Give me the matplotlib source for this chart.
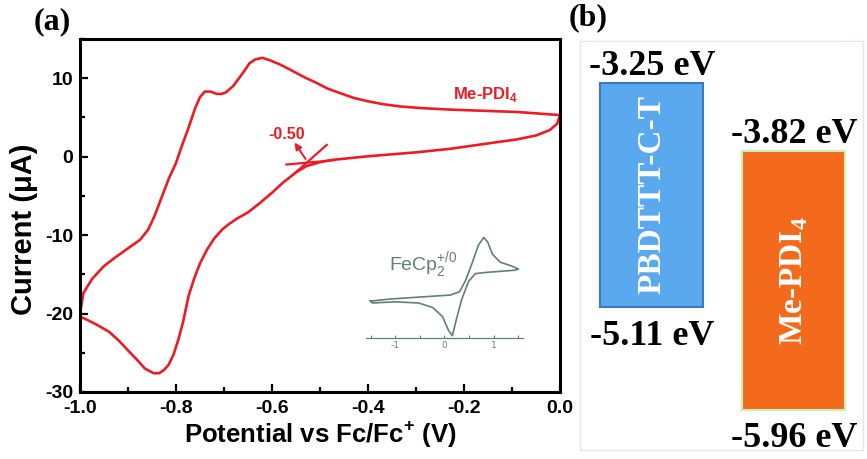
import numpy as np
import matplotlib
matplotlib.use('Agg')
import matplotlib.pyplot as plt
from matplotlib.ticker import MultipleLocator, FormatStrFormatter

plt.rcParams['axes.unicode_minus'] = False
plt.rcParams['mathtext.fontset'] = 'custom'
plt.rcParams['mathtext.rm'] = 'Liberation Sans'

# CV of Me-PDI4 (one closed loop)
# upper branch, right to left
up_potential = [0.0, -0.045, -0.09, -0.16, -0.229, -0.29, -0.333, -0.37, -0.403, -0.43,
                -0.458, -0.485, -0.507, -0.535, -0.5625, -0.585, -0.605, -0.62, -0.635, -0.647,
                -0.658, -0.67, -0.681, -0.696, -0.705, -0.715, -0.728, -0.74, -0.75, -0.76,
                -0.775, -0.79, -0.80, -0.815, -0.83, -0.845, -0.858, -0.875, -0.905, -0.93,
                -0.951, -0.975, -0.993, -1.0]
up_current = [5.3, 5.5, 5.7, 5.85, 6.0, 6.2, 6.4, 6.7, 7.1, 7.5,
              8.1, 8.7, 9.4, 10.2, 11.1, 11.8, 12.3, 12.6, 12.4, 11.9,
              10.9, 9.9, 9.0, 8.2, 8.0, 8.0, 8.3, 8.3, 7.6, 6.2,
              3.5, 1.0, -0.8, -2.8, -5.2, -7.6, -9.3, -10.6, -11.9, -13.0,
              -14.0, -15.6, -17.4, -20.0]
# lower branch, left to right
low_potential = [-1.0, -0.985, -0.966, -0.94, -0.92, -0.90, -0.881, -0.865, -0.847, -0.835,
                 -0.825, -0.815, -0.805, -0.795, -0.785, -0.774, -0.762, -0.75, -0.735, -0.72,
                 -0.704, -0.69, -0.673, -0.65, -0.627, -0.60, -0.577, -0.55, -0.528, -0.50,
                 -0.473, -0.40, -0.30, -0.229, -0.16, -0.09, -0.05, -0.021, -0.006, 0.0]
low_current = [-20.4, -20.8, -21.4, -22.3, -23.4, -24.7, -25.9, -27.0, -27.6, -27.6,
               -27.2, -26.5, -25.2, -23.3, -21.0, -17.8, -15.5, -13.6, -11.8, -10.4,
               -9.3, -8.6, -7.9, -7.1, -6.0, -4.6, -3.3, -2.0, -1.2, -0.7,
               -0.4, 0.05, 0.55, 1.0, 1.6, 2.2, 2.7, 3.4, 4.2, 5.3]

# onset tangents
base_x = [-0.57, -0.47]
base_y = [-1.0, -0.45]
steep_x = [-0.556, -0.486]
steep_y = [-2.3, 1.5]
onset = -0.50

# ferrocene inset (arbitrary current)
fc_potential = [-1.51, -1.10, -0.49, 0.12, 0.31, 0.43, 0.57, 0.69, 0.80, 0.88, 0.98, 1.14, 1.35, 1.51,
                1.43, 1.14, 0.84, 0.63, 0.49, 0.35, 0.24, 0.16, 0.08, -0.04, -0.24, -0.53, -1.0, -1.47, -1.51]
fc_current = [0.327, 0.345, 0.363, 0.38, 0.41, 0.51, 0.67, 0.82, 0.89, 0.85, 0.74, 0.67, 0.64, 0.61,
              0.60, 0.59, 0.58, 0.57, 0.50, 0.34, 0.16, 0.02, 0.07, 0.19, 0.27, 0.31, 0.32, 0.31, 0.327]

# energy levels
materials = ['PBDTTT-C-T', 'Me-PDI$_\\mathregular{4}$']
lumo = [-3.25, -3.82]
homo = [-5.11, -5.96]

red = '#ec1c24'
grey = '#5f807c'

fig = plt.figure(figsize=(8.67, 4.59), dpi=100)

# ---- panel (a)
ax = fig.add_axes([0.0923, 0.146, 0.5536, 0.769])
ax.plot(up_potential + low_potential, up_current + low_current, color=red, lw=1.9)
ax.plot(base_x, base_y, color=red, lw=1.6)
ax.plot(steep_x, steep_y, color=red, lw=1.6)
ax.annotate('', xy=(-0.553, 1.8), xytext=(-0.530, -0.3),
            arrowprops=dict(arrowstyle='-|>', color=red, lw=1.4, mutation_scale=10,
                            shrinkA=0, shrinkB=0))
ax.text(-0.569, 2.8, '%.2f' % onset, color=red, fontsize=11.5, fontweight='bold',
        family='Liberation Sans', ha='center', va='center')
ax.text(-0.155, 7.9, 'Me-PDI$_\\mathregular{4}$', color=red, fontsize=12, fontweight='bold',
        family='Liberation Sans', ha='center', va='center')

ax.set_xlim(-1.0, 0.0)
ax.set_ylim(-30, 15)
ax.xaxis.set_major_locator(MultipleLocator(0.2))
ax.xaxis.set_minor_locator(MultipleLocator(0.1))
ax.yaxis.set_major_locator(MultipleLocator(10))
ax.yaxis.set_minor_locator(MultipleLocator(5))
ax.xaxis.set_major_formatter(FormatStrFormatter('%.1f'))
ax.tick_params(which='both', direction='in', top=False, right=False, width=1.6)
ax.tick_params(which='major', length=6)
ax.tick_params(axis='x', which='major', pad=6)
ax.tick_params(axis='y', which='major', pad=5)
ax.tick_params(which='minor', length=3.5)
for lab in ax.get_xticklabels() + ax.get_yticklabels():
    lab.set_family('Liberation Sans')
    lab.set_fontweight('bold')
    lab.set_fontsize(14)
for sp in ax.spines.values():
    sp.set_linewidth(2.2)
ax.set_xlabel('Potential vs Fc/Fc$^\\mathregular{+}$ (V)', family='Liberation Sans',
              fontweight='bold', fontsize=18.5, labelpad=1)
ax.set_ylabel('Current (\u03bcA)', family='Liberation Sans', fontweight='bold', fontsize=21)
ax.yaxis.set_label_coords(-0.087, 0.46)
fig.text(0.060, 0.952, '(a)', family='Liberation Serif', fontweight='bold', fontsize=23,
         ha='center', va='center')

# ---- inset
ins = fig.add_axes([0.4221, 0.2636, 0.1811, 0.2462])
ins.patch.set_alpha(0)
ins.plot(fc_potential, fc_current, color=grey, lw=1.2)
ins.set_xlim(-1.6, 1.6)
ins.set_ylim(0, 1)
for s in ['top', 'right', 'left']:
    ins.spines[s].set_visible(False)
ins.spines['bottom'].set_color(grey)
ins.spines['bottom'].set_linewidth(0.9)
ins.set_yticks([])
ins.set_xticks([-1, 0, 1])
ins.xaxis.set_minor_locator(MultipleLocator(0.5))
ins.tick_params(axis='x', which='both', direction='in', colors=grey, labelsize=6.5,
                length=2.5, width=0.8, pad=2)
ins.text(-1.14, 0.64, 'FeCp$_\\mathregular{2}^\\mathregular{+/0}$', color=grey, fontsize=14,
         family='Liberation Sans', ha='left', va='center')

# ---- panel (b)
bx = fig.add_axes([0.669, 0.0196, 0.3264, 0.891])
bx.set_xlim(0, 1)
bx.set_ylim(-6.293, -2.905)
bx.set_xticks([])
bx.set_yticks([])
for sp in bx.spines.values():
    sp.set_color('#dde8ee')
    sp.set_linewidth(1.0)
centers = [0.254, 0.756]
fills = ['#5aa8ee', '#f46a1c']
edges = ['#3a78c0', '#c6f0b4']
heights = [l - h for l, h in zip(lumo, homo)]
bx.bar(centers, heights, bottom=homo, width=0.364, color=fills,
       edgecolor=edges, linewidth=1.5)
for c, name, lo, hi in zip(centers, materials, lumo, homo):
    bx.text(c, (lo + hi) / 2, name, rotation=90, color='white', fontsize=24,
            fontweight='bold', family='Liberation Serif', ha='center', va='center')
    bx.annotate('%.2f eV' % lo, (c, lo), xytext=(0, 12), textcoords='offset points',
                ha='center', va='center', fontsize=26, fontweight='bold', family='Liberation Serif')
    bx.annotate('%.2f eV' % hi, (c, hi), xytext=(0, -21), textcoords='offset points',
                ha='center', va='center', fontsize=26, fontweight='bold', family='Liberation Serif')
fig.text(0.678, 0.962, '(b)', family='Liberation Serif', fontweight='bold', fontsize=23,
         ha='center', va='center')

fig.savefig('out.png', dpi=100)
